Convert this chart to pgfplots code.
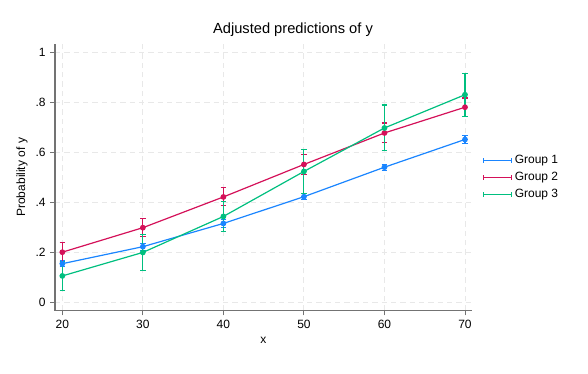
\documentclass[border=0pt]{standalone}
\usepackage{pgfplots}
\pgfplotsset{compat=1.18}
\usepackage{fontspec}
\setmainfont{Liberation Sans}
\definecolor{stcA}{RGB}{26,133,255}
\definecolor{stcB}{RGB}{212,17,89}
\definecolor{stcC}{RGB}{0,191,127}
\pgfplotsset{
  stline/.style={draw=#1, line width=0.9pt, mark=*, mark size=1.7pt,
    mark options={fill=#1, draw=#1}},
  sterr/.style={draw=#1, line width=0.8pt, mark=none, forget plot, unbounded coords=jump},
  stleg/.style={legend image code/.code={
      \draw[draw=#1, line width=0.9pt] (0cm,0cm) -- (21pt,0cm);
      \draw[draw=#1, line width=0.7pt] (0cm,-1.8pt) -- (0cm,1.8pt);
      \draw[draw=#1, line width=0.7pt] (21pt,-1.8pt) -- (21pt,1.8pt);
    }},
}
\begin{document}
\begin{tikzpicture}
\begin{axis}[
  at={(0,0)}, anchor=south west,
  width=312.5pt, height=200pt, scale only axis,
  xmin=19.09, xmax=70.83, ymin=-0.032, ymax=1.035,
  axis lines*=left,
  axis line style={draw=black!55, line width=0.8pt},
  xtick={20,30,40,50,60,70},
  xticklabels={20,30,40,50,60,70},
  ytick={0,0.2,0.4,0.6,0.8,1},
  yticklabels={0,.2,.4,.6,.8,1},
  tick align=outside, major tick length=3.5pt,
  tick style={draw=black!55, line width=0.7pt},
  tick label style={font=\fontsize{9}{11}\selectfont},
  grid=major,
  major grid style={draw=black!9, dash pattern=on 4pt off 3pt, line width=0.7pt},
  legend style={at={(1.02,0.5)}, anchor=west, draw=none, fill=none,
    font=\fontsize{9}{11}\selectfont, row sep=1pt, inner xsep=2pt},
  legend cell align=left,
  clip=false,
]
% ---- Group 1 (confidence intervals, lower/upper limits)
\addplot[sterr=stcA] coordinates {
(20,0.143) (20,0.169) (20,nan) (19.65,0.143) (20.35,0.143) (20,nan) (19.65,0.169) (20.35,0.169) (20,nan)
(30,0.210) (30,0.238) (30,nan) (29.65,0.210) (30.35,0.210) (30,nan) (29.65,0.238) (30.35,0.238) (30,nan)
(40,0.302) (40,0.332) (40,nan) (39.65,0.302) (40.35,0.302) (40,nan) (39.65,0.332) (40.35,0.332) (40,nan)
(50,0.412) (50,0.436) (50,nan) (49.65,0.412) (50.35,0.412) (50,nan) (49.65,0.436) (50.35,0.436) (50,nan)
(60,0.530) (60,0.554) (60,nan) (59.65,0.530) (60.35,0.530) (60,nan) (59.65,0.554) (60.35,0.554) (60,nan)
(70,0.637) (70,0.669) (70,nan) (69.65,0.637) (70.35,0.637) (70,nan) (69.65,0.669) (70.35,0.669)
};
% ---- Group 2
\addplot[sterr=stcB] coordinates {
(20,0.163) (20,0.241) (20,nan) (19.65,0.163) (20.35,0.163) (20,nan) (19.65,0.241) (20.35,0.241) (20,nan)
(30,0.263) (30,0.337) (30,nan) (29.65,0.263) (30.35,0.263) (30,nan) (29.65,0.337) (30.35,0.337) (30,nan)
(40,0.387) (40,0.459) (40,nan) (39.65,0.387) (40.35,0.387) (40,nan) (39.65,0.459) (40.35,0.459) (40,nan)
(50,0.513) (50,0.593) (50,nan) (49.65,0.513) (50.35,0.513) (50,nan) (49.65,0.593) (50.35,0.593) (50,nan)
(60,0.639) (60,0.719) (60,nan) (59.65,0.639) (60.35,0.639) (60,nan) (59.65,0.719) (60.35,0.719) (60,nan)
(70,0.745) (70,0.819) (70,nan) (69.65,0.745) (70.35,0.745) (70,nan) (69.65,0.819) (70.35,0.819)
};
% ---- Group 3
\addplot[sterr=stcC] coordinates {
(20,0.049) (20,0.165) (20,nan) (19.65,0.049) (20.35,0.049) (20,nan) (19.65,0.165) (20.35,0.165) (20,nan)
(30,0.128) (30,0.274) (30,nan) (29.65,0.128) (30.35,0.128) (30,nan) (29.65,0.274) (30.35,0.274) (30,nan)
(40,0.285) (40,0.405) (40,nan) (39.65,0.285) (40.35,0.285) (40,nan) (39.65,0.405) (40.35,0.405) (40,nan)
(50,0.437) (50,0.613) (50,nan) (49.65,0.437) (50.35,0.437) (50,nan) (49.65,0.613) (50.35,0.613) (50,nan)
(60,0.607) (60,0.791) (60,nan) (59.65,0.607) (60.35,0.607) (60,nan) (59.65,0.791) (60.35,0.791) (60,nan)
(70,0.746) (70,0.918) (70,nan) (69.65,0.746) (70.35,0.746) (70,nan) (69.65,0.918) (70.35,0.918)
};
\addplot[stline=stcA, stleg=stcA] coordinates {(20,0.156) (30,0.224) (40,0.317) (50,0.424) (60,0.542) (70,0.653)};
\addlegendentry{Group 1}
\addplot[stline=stcB, stleg=stcB] coordinates {(20,0.202) (30,0.300) (40,0.423) (50,0.553) (60,0.679) (70,0.782)};
\addlegendentry{Group 2}
\addplot[stline=stcC, stleg=stcC] coordinates {(20,0.107) (30,0.201) (40,0.345) (50,0.525) (60,0.699) (70,0.832)};
\addlegendentry{Group 3}
\end{axis}
\node[font=\fontsize{11}{13}\selectfont] at (178.5pt,210.5pt) {Adjusted predictions of y};
\node[font=\fontsize{9}{11}\selectfont] at (156.25pt,-22pt) {x};
\node[font=\fontsize{9}{11}\selectfont, rotate=90] at (-24.75pt,100pt) {Probability of y};
\path[use as bounding box] (-41.25pt,-47.5pt) rectangle (399.75pt,233pt);
\end{tikzpicture}
\end{document}
